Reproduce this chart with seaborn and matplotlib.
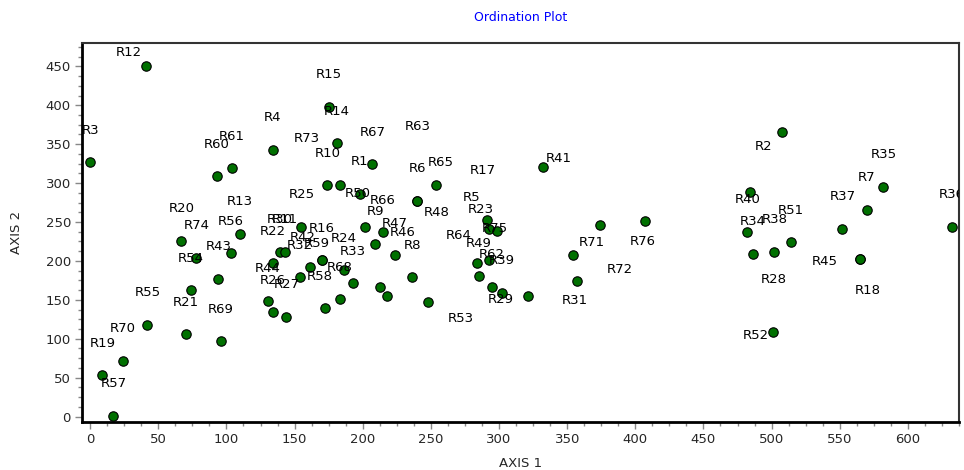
import matplotlib
matplotlib.use('Agg')
import matplotlib.pyplot as plt
import matplotlib.transforms as mtransforms
from matplotlib.ticker import MultipleLocator
import pandas as pd
import seaborn as sns

# sample units and their ordination scores
names = ['R12', 'R3', 'R60', 'R61', 'R4', 'R20', 'R74', 'R56', 'R13', 'R43',
         'R54', 'R55', 'R21', 'R69', 'R70', 'R19', 'R57', 'R44', 'R26', 'R27',
         'R22', 'R30', 'R11', 'R32', 'R25', 'R10', 'R73', 'R14', 'R15', 'R16',
         'R42', 'R24', 'R33', 'R58', 'R68', 'R1', 'R67', 'R65', 'R6', 'R50',
         'R66', 'R9', 'R47', 'R8', 'R46', 'R48', 'R53', 'R23', 'R5', 'R75',
         'R64', 'R49', 'R62', 'R39', 'R29', 'R72', 'R31', 'R41', 'R71', 'R76',
         'R2', 'R35', 'R7', 'R37', 'R36', 'R40', 'R28', 'R34', 'R38', 'R51',
         'R45', 'R52', 'R63', 'R17', 'R18', 'R59']
axis1 = [41, 0, 93, 104, 134, 67, 78, 103, 110, 94,
         74, 42, 70, 96, 24, 9, 17, 130.5, 134, 144,
         134, 139, 143, 154, 155, 174, 183, 181, 175, 170,
         161, 186, 193, 172, 183, 198, 207, 254, 240, 201.5,
         214.5, 209, 223.5, 236.5, 213, 218, 248, 291.5, 293, 298.5,
         284, 285, 294.5, 302, 321, 354, 357, 332, 374, 407,
         507.5, 582, 570, 552, 632, 484.5, 482, 486, 502, 514,
         565, 501, 240, 293, 565, 170]
axis2 = [451, 327, 309, 319, 343, 226, 204, 210, 235, 177,
         162, 118, 106, 97, 72, 53, 1, 149, 134, 128,
         197, 212, 212, 179, 244, 297, 297, 351, 398, 201,
         192, 188, 171.5, 140, 151, 286, 324, 298, 277, 244,
         237, 222, 207, 179, 166, 155, 147, 252, 241, 239,
         197, 181, 167, 159, 155, 207, 174, 321, 246, 251,
         365, 295, 266, 241, 244, 289, 237, 209, 212, 224,
         202, 109, 277, 201, 202, 201]

# label placement (pixels right, pixels up); default is straight above
label_offset = {'R12': (-17, 13), 'R73': (-33, 47), 'R46': (22, 55), 'R48': (49, 83),
                'R53': (33, -16), 'R63': (0, 74), 'R65': (4, 22), 'R50': (-7, 33),
                'R58': (-5, 31), 'R42': (-7, 30), 'R59': (-5, 17), 'R23': (-7, 11),
                'R5': (-18, 31), 'R75': (-2, 2), 'R17': (-7, 90), 'R64': (-19, 28),
                'R29': (-27, -4), 'R31': (-2, -19), 'R72': (47, -14), 'R71': (-8, -17),
                'R41': (16, 8), 'R76': (-2, -20), 'R2': (-18, -14), 'R40': (-3, -8),
                'R28': (27, -47), 'R45': (-35, -2), 'R18': (8, -31), 'R52': (-17, -4)}

df = pd.DataFrame({'name': names, 'AXIS 1': axis1, 'AXIS 2': axis2})

sns.set_style('white')
plt.rcParams['font.family'] = ['DejaVu Sans']

fig = plt.figure(figsize=(9.64, 4.70), dpi=100)
ax = fig.add_axes([82 / 964, 1 - 422 / 470, 877 / 964, 379 / 470])

sns.scatterplot(data=df, x='AXIS 1', y='AXIS 2', ax=ax, color='#007000',
                edgecolor='black', linewidth=0.8, s=46, zorder=3)

for name, x, y in zip(names, axis1, axis2):
    dx, dy = label_offset.get(name, (0, 32))
    tr = mtransforms.offset_copy(ax.transData, fig=fig, x=dx, y=dy, units='dots')
    t = ax.text(x, y, name, transform=tr, ha='center', va='center',
                fontsize=9.5, color='black', clip_on=True, zorder=4)
    t.set_clip_path(ax.patch)

ax.set_xlim(-6, 637.5)
ax.set_ylim(-7, 480)
ax.xaxis.set_major_locator(MultipleLocator(50))
ax.yaxis.set_major_locator(MultipleLocator(50))
ax.xaxis.set_minor_locator(MultipleLocator(12.5))
ax.yaxis.set_minor_locator(MultipleLocator(12.5))
ax.tick_params(which='major', direction='out', length=5, width=1, color='#888888',
               labelsize=9.5, pad=3, bottom=True, left=True)
ax.tick_params(which='minor', direction='out', length=3, width=1, color='#888888',
               bottom=True, left=True)

for side in ['left', 'bottom']:
    ax.spines[side].set_linewidth(2)
    ax.spines[side].set_color('black')
for side in ['top', 'right']:
    ax.spines[side].set_linewidth(1.5)
    ax.spines[side].set_color('#333333')

ax.set_xlabel('AXIS 1', fontsize=9.5, labelpad=8)
ax.set_ylabel('AXIS 2', fontsize=9.5, labelpad=16)
ax.set_title('Ordination Plot', fontsize=9, color='#0000ff', pad=16)

fig.savefig('out.png', dpi=100)
